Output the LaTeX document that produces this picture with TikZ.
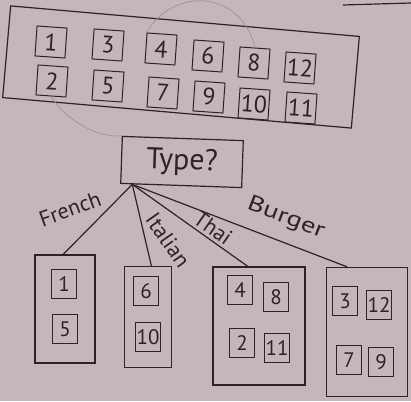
\documentclass[tikz,border=0pt]{standalone}
\usepackage{fontspec}
\setmainfont{PT Sans}
\usetikzlibrary{positioning,calc}
\definecolor{paper} {HTML}{C5B6BA}
\definecolor{ink}   {HTML}{2B2327}
\definecolor{pencil}{HTML}{9A8C93}
\tikzset{
  every node/.style={font=\Large},
  % --- nodes
  card/.style    = {draw=ink, line width=1pt, minimum width=30pt, minimum height=30pt,
                    inner sep=0pt, font=\fontsize{24}{24}\selectfont, text=ink},
  minicard/.style= {card, minimum width=25pt, minimum height=29pt, font=\fontsize{21}{21}\selectfont},
  tray/.style    = {draw=ink, line width=1.2pt, inner sep=0pt},
  ask/.style     = {tray, minimum width=121pt, minimum height=47pt, font=\fontsize{30}{30}\selectfont, text=ink},
  lbl/.style     = {font=\fontsize{22}{22}\selectfont, text=ink, inner sep=0pt},
  % --- edges
  e/.style       = {draw=ink, line width=1.2pt},
  stray/.style   = {draw=pencil, line width=0.6pt},
}
\begin{document}
\begin{tikzpicture}[x=1pt,y=-1pt]
  \fill[paper] (0,0) rectangle (411,401);
  \useasboundingbox (0,0) rectangle (411,401);

  % all restaurants
  \node[tray, rotate=-5, minimum width=350pt, minimum height=92pt] (all) at (181,67) {};
  \foreach \n/\x/\y in {1/51/42, 3/108/45, 4/161/49, 6/208/56, 8/254/63, 12/300/68,
                        2/52/81, 5/108/86, 7/163/93, 9/209/97, 10/254/104, 11/301/108}
    \node[card, rotate=-4] (t\n) at (\x,\y) {\n};

  % the question
  \node[ask, rotate=-2] (type) at (182,162) {Type?};
  \coordinate (fork) at ($(type.south west)!0.1!(type.south east)$);

  % the four groups
  \node[tray, minimum width=60pt, minimum height=108pt] (french)  at (65,309) {};
  \node[tray, minimum width=47pt, minimum height=101pt] (italian) at (148,317) {};
  \node[tray, minimum width=92pt, minimum height=118pt] (thai)    at (259,326) {};
  \node[tray, minimum width=81pt, minimum height=129pt] (burger)  at (367,332) {};

  \node[minicard] (f1)   at (64,284)  {1};
  \node[minicard] (f5)   at (65,329)  {5};
  \node[minicard] (i6)   at (146,291) {6};
  \node[minicard] (i10)  at (148,337) {10};
  \node[minicard] (th4)  at (240,290) {4};
  \node[minicard] (th8)  at (276,297) {8};
  \node[minicard] (th2)  at (242,343) {2};
  \node[minicard] (th11) at (277,348) {11};
  \node[minicard] (b3)   at (345,301) {3};
  \node[minicard] (b12)  at (379,305) {12};
  \node[minicard] (b7)   at (349,360) {7};
  \node[minicard] (b9)   at (381,362) {9};

  \foreach \t/\f in {french/0.47,italian/0.57,thai/0.38,burger/0.26}
    \draw[e] (fork) -- ($(\t.north west)!\f!(\t.north east)$);

  \node[lbl, rotate=20]  (lfr) at (70,209)  {French};
  \node[lbl, rotate=-55] (lit) at (168,240) {Italian};
  \node[lbl, rotate=-35] (lth) at (213,228) {Thai};
  \node[lbl, rotate=-21, xscale=1.3] (lbu) at (286,218) {Burger};

  % pencil traces
  \draw[stray] (t4.north west) .. controls (172,-12) and (240,-12) .. (t8.north);
  \draw[stray] (t2.south) .. controls (68,122) and (98,138) .. (type.north west);
  \draw[e] (343,5) -- (411,3);
\end{tikzpicture}
\end{document}
